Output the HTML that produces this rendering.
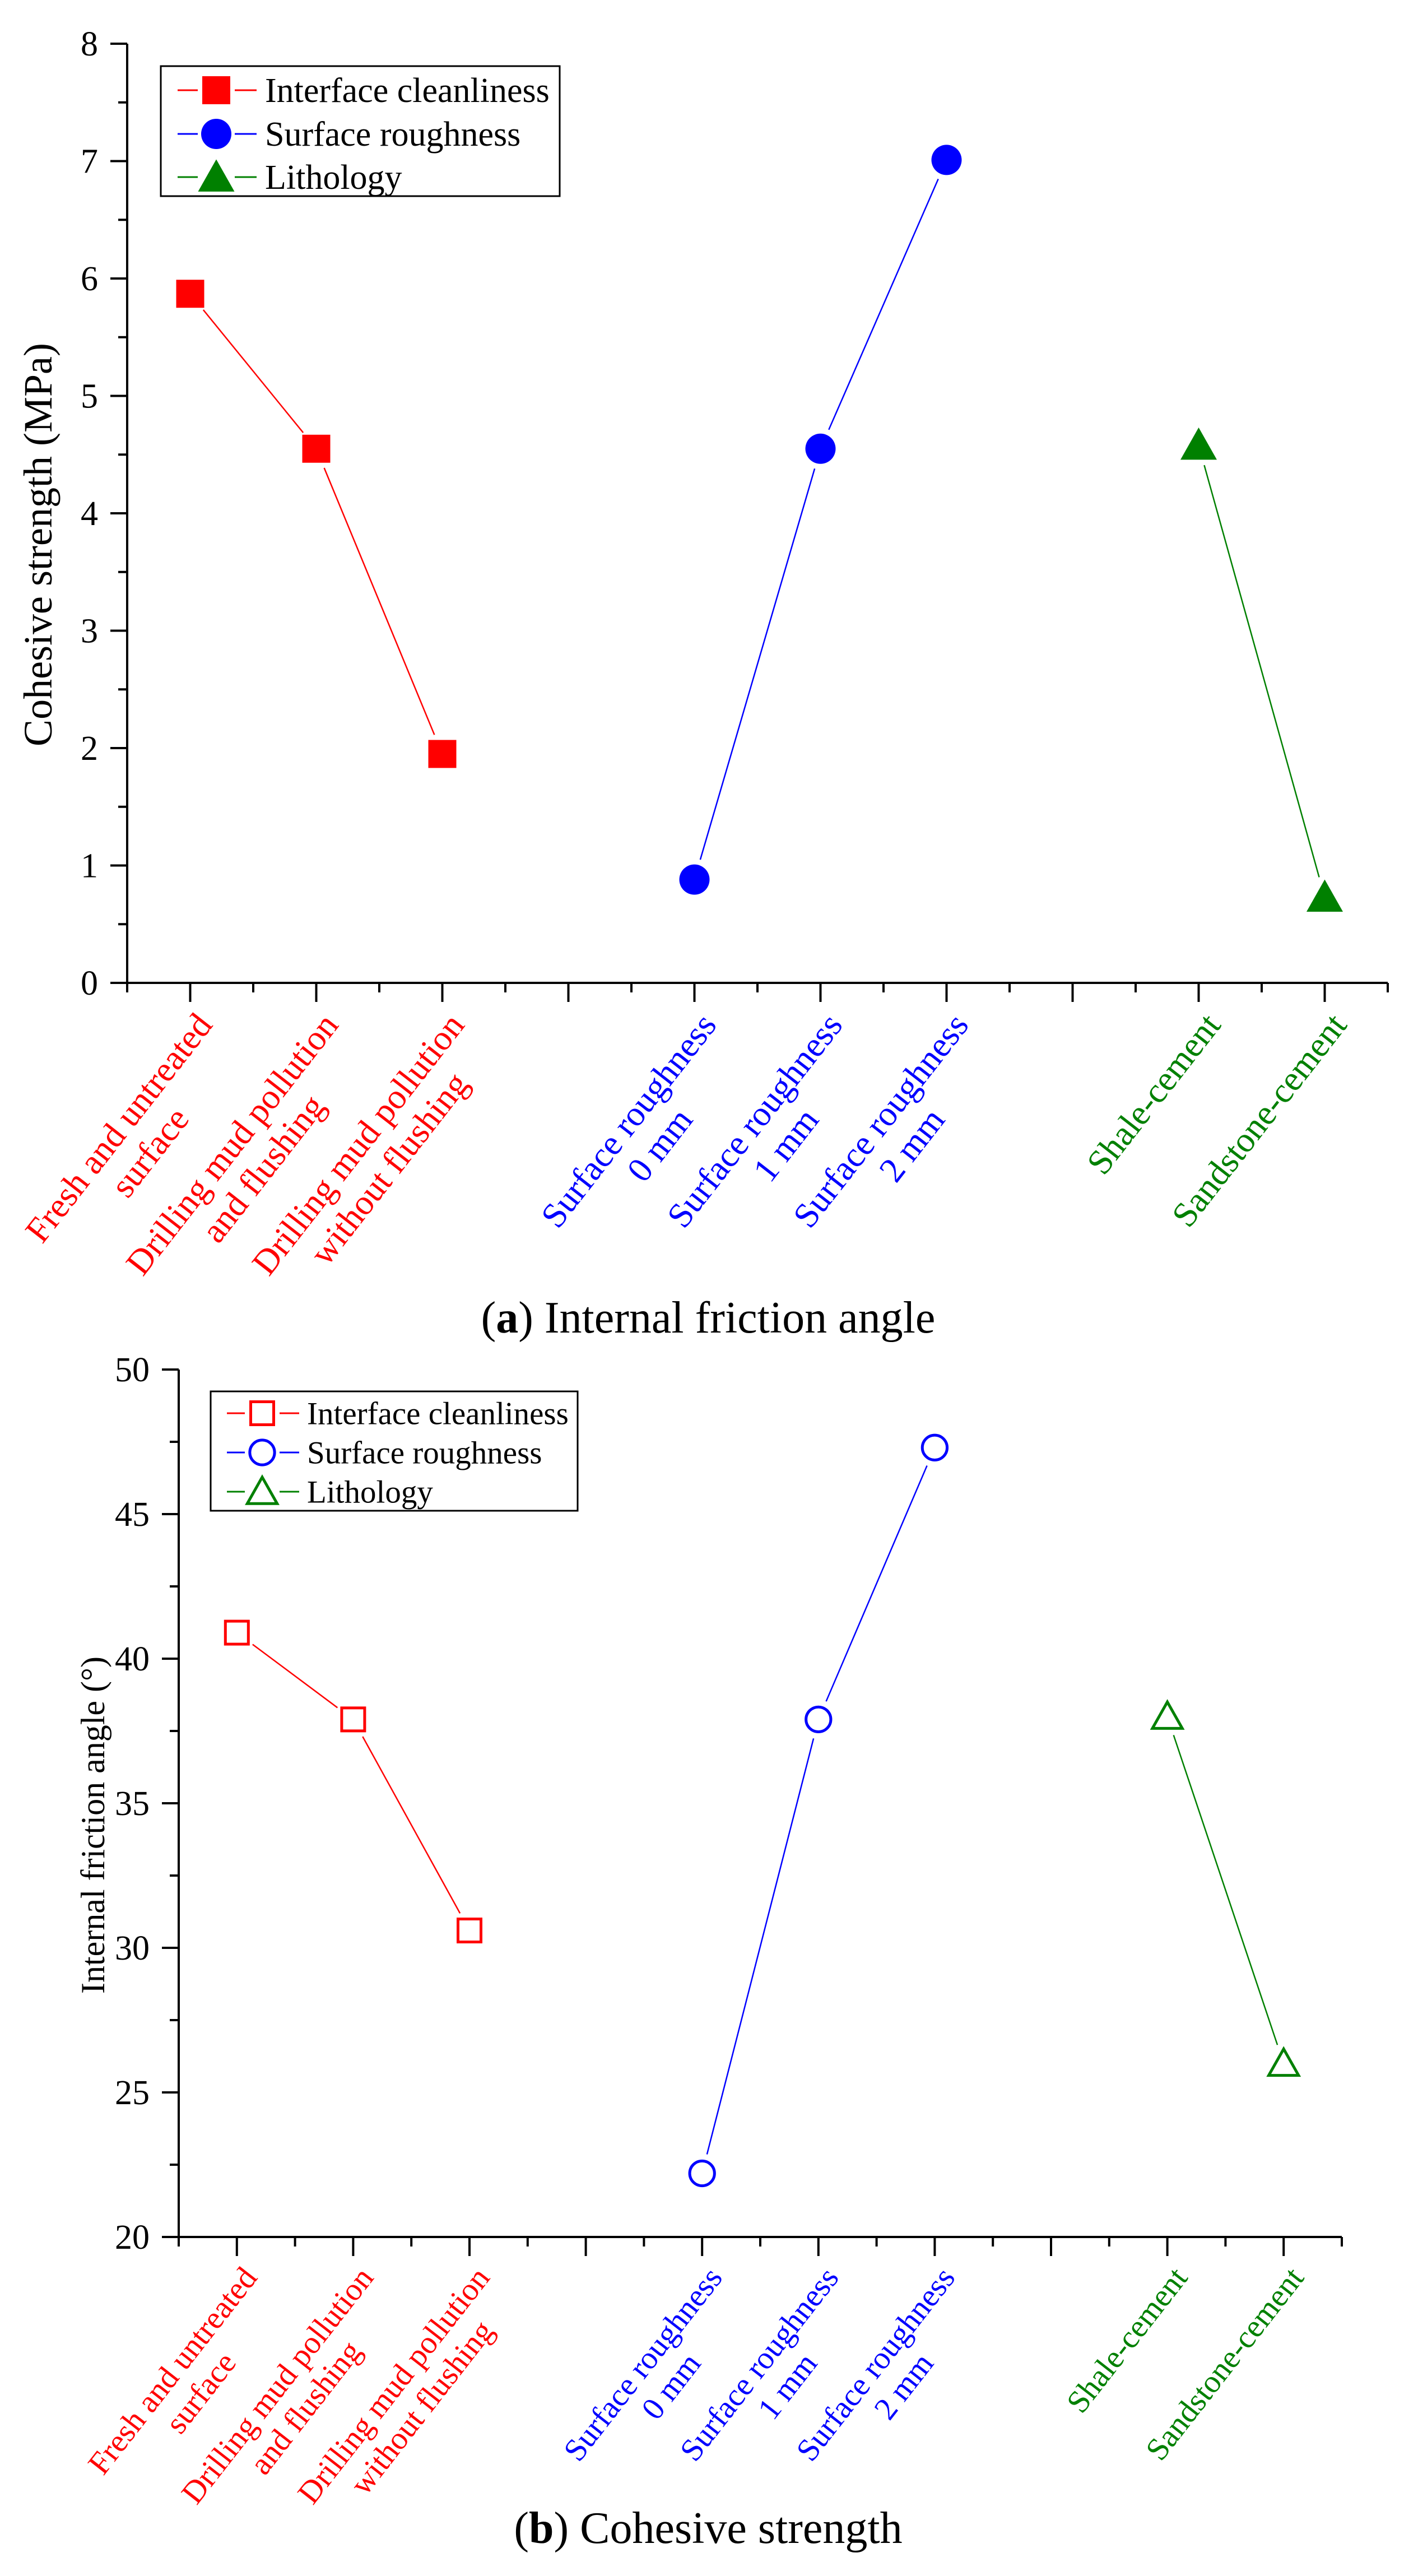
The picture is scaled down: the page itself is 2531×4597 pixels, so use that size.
<!DOCTYPE html>
<html><head><meta charset="utf-8">
<style>
html,body{margin:0;padding:0;background:#fff;}
svg{display:block;font-family:"Liberation Serif",serif;}
</style></head>
<body>
<svg id="fig" width="2531" height="4597" viewBox="0 0 2531 4597" xmlns="http://www.w3.org/2000/svg">
<rect x="0" y="0" width="2531" height="4597" fill="#fff"/>
<g id="chartA"></g>
<g id="chartB"></g>
<text x="1264" y="2378" font-size="80" text-anchor="middle">(<tspan font-weight="bold">a</tspan>) Internal friction angle</text>
<text x="1264" y="4538" font-size="80" text-anchor="middle">(<tspan font-weight="bold">b</tspan>) Cohesive strength</text>
</svg>
<script>
const categoryLabels = [
  ["Fresh and untreated","surface"],
  ["Drilling mud pollution","and flushing"],
  ["Drilling mud pollution","without flushing"],
  ["Surface roughness","0 mm"],
  ["Surface roughness","1 mm"],
  ["Surface roughness","2 mm"],
  ["Shale-cement"],
  ["Sandstone-cement"]
];
const categoryPositions = [1,2,3,5,6,7,9,10];
const seriesNames = ["Interface cleanliness","Surface roughness","Lithology"];
const seriesColors = ["#ff0000","#0000ff","#008000"];
const seriesCats = [[0,1,2],[3,4,5],[6,7]];
const cohesionClean = [5.87, 4.55, 1.95];
const cohesionRough = [0.88, 4.55, 7.01];
const cohesionLith = [4.58, 0.73];
const frictionClean = [40.9, 37.9, 30.6];
const frictionRough = [22.2, 37.9, 47.3];
const frictionLith = [38.0, 26.0];
const cohesionTicks = [0,1,2,3,4,5,6,7,8];
const frictionTicks = [20,25,30,35,40,45,50];

const NS = "http://www.w3.org/2000/svg";
function mk(parent, tag, attrs){
  const e = document.createElementNS(NS, tag);
  for (const k in attrs) e.setAttribute(k, attrs[k]);
  parent.appendChild(e);
  return e;
}

function drawChart(g, cfg){
  const xs = v => cfg.x0 + (v - 0.5) * cfg.dx;
  const ys = v => cfg.yBot - (v - cfg.ymin) / (cfg.ymax - cfg.ymin) * (cfg.yBot - cfg.yTop);
  const xEnd = xs(10.5);
  const ya = mk(g, "line", {x1:cfg.x0, y1:cfg.yTop, x2:cfg.x0, y2:cfg.yBot, stroke:"#000", "stroke-width":4});
  
  
  const xa = mk(g, "line", {x1:cfg.x0-30, y1:cfg.yBot, x2:xEnd, y2:cfg.yBot, stroke:"#000", "stroke-width":4});
  
  
  cfg.ticks.forEach((t, i) => {
    const y = ys(t);
    const tk = mk(g, "line", {x1:cfg.x0-30, y1:y, x2:cfg.x0, y2:y, stroke:"#000", "stroke-width":4});
    
    
    const lb = mk(g, "text", {x:cfg.x0-52, y:y+21, "font-size":62, "text-anchor":"end", fill:"#000"});
    lb.textContent = t;
    
    
    if (i < cfg.ticks.length - 1) {
      const ym = ys((t + cfg.ticks[i+1]) / 2);
      const mt = mk(g, "line", {x1:cfg.x0-16, y1:ym, x2:cfg.x0, y2:ym, stroke:"#000", "stroke-width":4});
      
      
    }
  });
  for (let v = 0.5; v <= 10.5; v += 0.5) {
    const major = Number.isInteger(v);
    const x = xs(v);
    const tk = mk(g, "line", {x1:x, y1:cfg.yBot, x2:x, y2:cfg.yBot + (major ? 34 : 17), stroke:"#000", "stroke-width":4});
    
    
  }
  const yt = mk(g, "text", {x:0, y:0, "font-size":cfg.titleSize, "text-anchor":"middle", transform:`translate(${cfg.titleX},${cfg.titleY}) rotate(-90)`});
  yt.textContent = cfg.title;
  
  
  categoryLabels.forEach((lines, ci) => {
    const sIdx = seriesCats.findIndex(a => a.includes(ci));
    const x = xs(categoryPositions[ci]);
    const lg = mk(g, "g", {transform:`translate(${x+6},${cfg.yBot+48}) rotate(-52)`});
    
    
    const fs = cfg.labelSize;
    const texts = lines.map((ln, li) => {
      const t = mk(lg, "text", {x:0, y:fs*0.72 + li*fs*1.12, "font-size":fs, fill:seriesColors[sIdx], "text-anchor":"middle"});
      t.textContent = ln;
      return t;
    });
    const w = Math.max(...texts.map(t => t.getComputedTextLength()));
    texts.forEach(t => t.setAttribute("x", -w/2));
  });
  cfg.series.forEach((vals, s) => {
    const color = seriesColors[s];
    const pts = vals.map((v, k) => [xs(categoryPositions[seriesCats[s][k]]), ys(v)]);
    const sg = mk(g, "g", {});
    
    
    for (let k = 0; k < pts.length - 1; k++) {
      const [ax, ay] = pts[k], [bx, by] = pts[k+1];
      const L = Math.hypot(bx-ax, by-ay), gap = cfg.markerR + 12;
      const ux = (bx-ax)/L, uy = (by-ay)/L;
      const ln = mk(sg, "line", {x1:ax+ux*gap, y1:ay+uy*gap, x2:bx-ux*gap, y2:by-uy*gap, stroke:color, "stroke-width":2.5});
      
      
    }
    pts.forEach(([px, py]) => {
      const m = marker(sg, s, px, py, cfg.markerR, cfg.filled, color);
      
      
    });
  });
  const L = cfg.legend;
  const box = mk(g, "rect", {x:L.x, y:L.y, width:L.w, height:L.h, fill:"#fff", stroke:"#000", "stroke-width":3});
  
  
  seriesNames.forEach((nm, s) => {
    const eg = mk(g, "g", {});
    
    
    const y = L.rows[s];
    mk(eg, "line", {x1:L.l1, y1:y, x2:L.mx - L.r - 8, y2:y, stroke:seriesColors[s], "stroke-width":3});
    mk(eg, "line", {x1:L.mx + L.r + 8, y1:y, x2:L.l2, y2:y, stroke:seriesColors[s], "stroke-width":3});
    marker(eg, s, L.mx, y, L.r, cfg.filled, seriesColors[s]);
    const t = mk(eg, "text", {x:L.tx, y:y + L.fs*0.34, "font-size":L.fs, fill:"#000"});
    t.textContent = nm;
  });
}

function marker(parent, s, x, y, r, filled, color){
  const fill = filled ? color : "none";
  const sw = filled ? 0 : 5;
  const rr = filled ? r : r - 2.5;
  if (s === 0) return mk(parent, "rect", {x:x-rr, y:y-rr, width:2*rr, height:2*rr, fill:fill, stroke:color, "stroke-width":sw});
  if (s === 1) return mk(parent, "circle", {cx:x, cy:y, r:rr*1.08, fill:fill, stroke:color, "stroke-width":sw});
  const h = rr*2.3;
  return mk(parent, "polygon", {points:`${x},${y-h*0.55} ${x+rr*1.3},${y+h*0.45} ${x-rr*1.3},${y+h*0.45}`, fill:fill, stroke:color, "stroke-width":sw});
}

drawChart(document.getElementById("chartA"), {
  x0:227, dx:225, yTop:78, yBot:1754, ymin:0, ymax:8, ticks:cohesionTicks,
  title:"Cohesive strength (MPa)", titleX:92, titleY:972, titleSize:72, labelSize:63,
  series:[cohesionClean, cohesionRough, cohesionLith], markerR:25, filled:true,
  legend:{x:287, y:118, w:712, h:232, rows:[161,239,316], mx:386, r:25, l1:317, l2:458, tx:473, fs:62}
});
drawChart(document.getElementById("chartB"), {
  x0:319, dx:207.6, yTop:2444, yBot:3992, ymin:20, ymax:50, ticks:frictionTicks,
  title:"Internal friction angle (°)", titleX:186, titleY:3257, titleSize:60, labelSize:57,
  series:[frictionClean, frictionRough, frictionLith], markerR:23, filled:false,
  legend:{x:376, y:2483, w:655, h:213, rows:[2522,2592,2662], mx:468, r:23, l1:405, l2:534, tx:548, fs:57}
});
</script>
</body></html>
